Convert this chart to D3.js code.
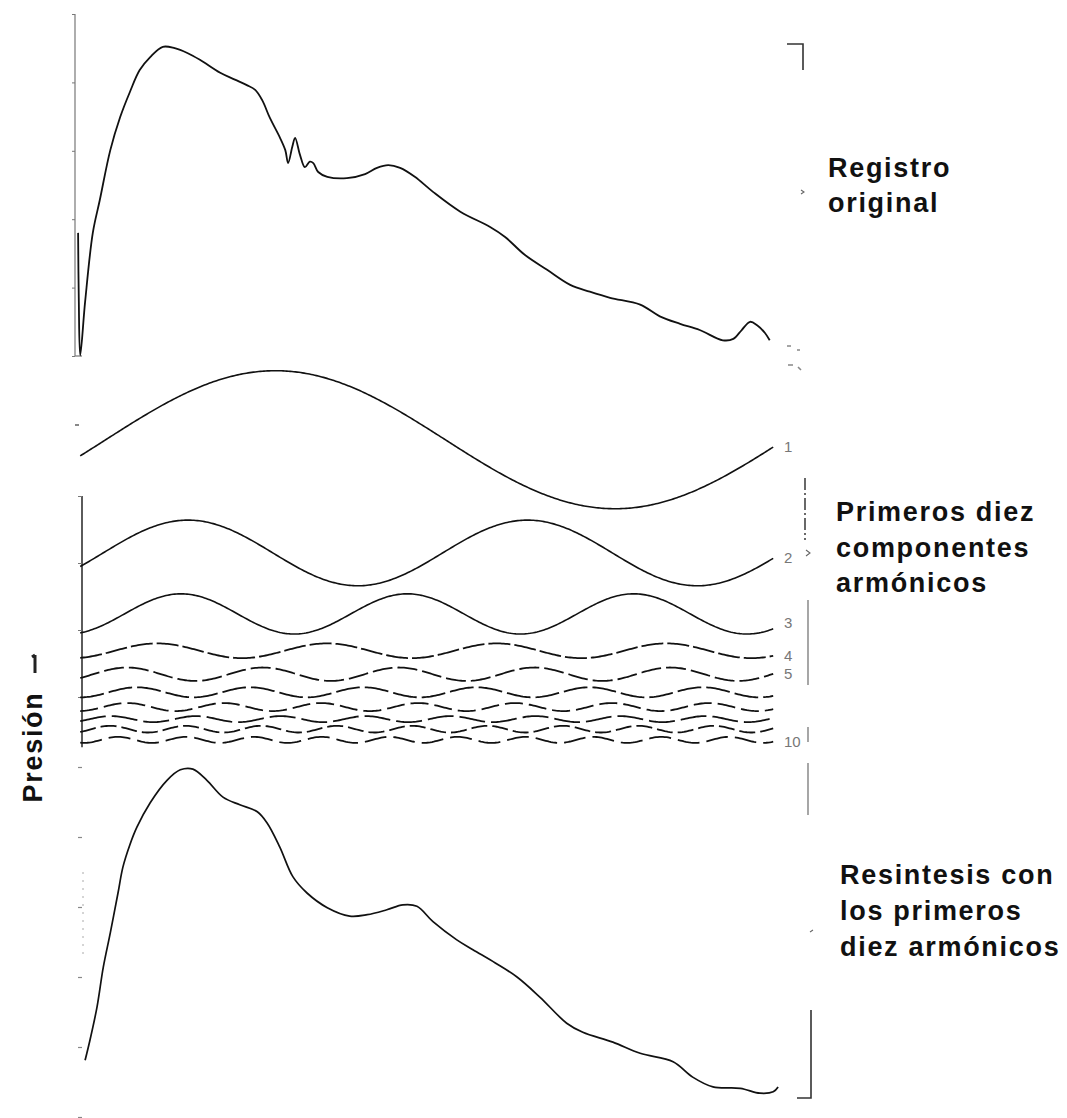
<!DOCTYPE html>
<html>
<head>
<meta charset="utf-8">
<script src="https://cdn.jsdelivr.net/npm/d3@7/dist/d3.min.js"></script>
<style>
  html, body { margin: 0; padding: 0; background: #fff; }
  svg { display: block; }
  .lbl { font-family: "Liberation Sans", Arial, sans-serif; font-weight: bold; font-size: 27px; letter-spacing: 1.7px; fill: #111; }
  .num { font-family: "Liberation Sans", Arial, sans-serif; font-size: 15px; fill: #777; }
</style>
</head>
<body>
<script>
// ---------- DATA (time in % of the cycle, pressure in axis units) ----------
const originalT = [0.3, 0.4, 0.6, 1.3, 2.4, 3.4, 4.9, 6.3, 7.7, 9.1, 10.6, 12.4, 14.1, 15.9, 17.7, 20.6, 22.7, 24.4, 25.6, 26.6, 27.7, 29.1, 29.9, 30.3, 30.9, 31.3, 32.0, 32.7, 33.4, 33.9, 34.6, 35.9, 38.7, 41.3, 43.0, 44.6, 46.3, 48.4, 51.0, 54.9, 59.1, 61.3, 64.1, 67.3, 70.6, 73.4, 76.3, 80.6, 83.4, 86.3, 89.1, 92.4, 93.9, 95.1, 96.3, 97.3, 98.4, 99.1];
const originalP = [1.80, 0.82, 0.01, 0.79, 1.80, 2.28, 3.01, 3.49, 3.86, 4.18, 4.37, 4.52, 4.50, 4.43, 4.33, 4.14, 4.04, 3.96, 3.89, 3.74, 3.48, 3.20, 3.01, 2.82, 3.06, 3.19, 2.94, 2.76, 2.84, 2.82, 2.69, 2.62, 2.60, 2.66, 2.75, 2.79, 2.75, 2.62, 2.40, 2.11, 1.89, 1.74, 1.48, 1.26, 1.04, 0.94, 0.85, 0.75, 0.58, 0.47, 0.38, 0.23, 0.25, 0.38, 0.50, 0.45, 0.34, 0.23];

const resynthT = [1.3, 2.0, 3.0, 3.9, 4.9, 6.0, 6.7, 7.7, 8.7, 10.6, 13.0, 14.9, 16.7, 18.7, 21.0, 23.4, 25.9, 27.3, 29.1, 31.0, 33.0, 35.9, 39.1, 41.6, 44.4, 46.7, 48.7, 51.0, 54.4, 56.7, 59.9, 63.0, 66.3, 70.1, 72.4, 76.7, 80.6, 85.3, 88.1, 91.0, 94.9, 97.7, 99.6, 100.3];
const resynthP = [0.81, 1.10, 1.57, 2.14, 2.63, 3.20, 3.57, 3.89, 4.14, 4.49, 4.81, 4.96, 4.97, 4.81, 4.57, 4.46, 4.36, 4.20, 3.86, 3.43, 3.20, 2.99, 2.87, 2.89, 2.96, 3.03, 3.01, 2.79, 2.53, 2.39, 2.20, 2.00, 1.71, 1.34, 1.21, 1.07, 0.91, 0.79, 0.57, 0.43, 0.41, 0.34, 0.36, 0.43];

// harmonic components (number, baseline, amplitude, time of first crest)
const harmonicNumbers = [1, 2, 3, 4, 5, 6, 7, 8, 9, 10];
const harmonicBaselines = [4.84, 3.15, 2.24, 1.69, 1.34, 1.07, 0.85, 0.67, 0.52, 0.36];
const harmonicAmplitudes = [1.03, 0.49, 0.30, 0.11, 0.10, 0.075, 0.06, 0.045, 0.05, 0.045];
const harmonicFirstCrest = [28.5, 16.0, 15.0, 11.6, 7.3, 8.7, 7.3, 5.0, 4.9, 6.0];
const fundamentalPeriod = 97;
const harmonicStart = 0.6, harmonicEnd = 99.6;

const harmonicLabels = ["1", "2", "3", "4", "5", "10"];
const harmonicLabelIdx = [0, 1, 2, 3, 4, 9];

const axisTicks = [0, 1, 2, 3, 4, 5];
const midTicks = [1, 2, 3, 4];

const titleTop = ["Registro", "original"];
const titleMid = ["Primeros diez", "componentes", "armónicos"];
const titleBot = ["Resintesis con", "los primeros", "diez armónicos"];
const yLabel = "Presión";

// ---------- SCALES ----------
const W = 1067, H = 1118;
const svg = d3.select("body").append("svg").attr("width", W).attr("height", H);

const x = d3.scaleLinear().domain([0, 100]).range([76, 776]);
const yTop = d3.scaleLinear().domain([0, 5]).range([356, 14]);
const yMid = d3.scaleLinear().domain([0, 4]).range([764, 496]);
const yBot = d3.scaleLinear().domain([0, 5]).range([1117, 767]);

const ink = "#111";
const axisCol = "#777";

// ---------- AXES ----------
const gTopAxis = svg.append("g").attr("transform", "translate(75,0)")
  .call(d3.axisLeft(yTop).tickValues(axisTicks).tickSize(3).tickFormat(""));
gTopAxis.select(".domain").attr("stroke", axisCol).attr("stroke-width", 1.2).attr("d", `M0,${yTop(5)}V${yTop(0)}`);
gTopAxis.selectAll(".tick line").attr("stroke", axisCol);
svg.append("line").attr("x1", 75).attr("x2", 82).attr("y1", yTop(0)).attr("y2", yTop(0)).attr("stroke", axisCol).attr("stroke-width", 1.2);

const gMidAxis = svg.append("g").attr("transform", "translate(82,0)")
  .call(d3.axisLeft(yMid).tickValues(midTicks).tickSize(4).tickFormat(""));
gMidAxis.select(".domain").attr("stroke", "#333").attr("stroke-width", 1.6).attr("d", `M0,${yMid(4)}V${yMid(0.25)}`);
gMidAxis.selectAll(".tick line").attr("stroke", axisCol);
svg.append("line").attr("x1", 75).attr("x2", 79).attr("y1", 425).attr("y2", 425).attr("stroke", "#888").attr("stroke-width", 2);

const gBotAxis = svg.append("g").attr("transform", "translate(82,0)")
  .call(d3.axisLeft(yBot).tickValues(axisTicks).tickSize(4).tickFormat(""));
gBotAxis.select(".domain").attr("stroke", "#aaa").attr("stroke-width", 1).attr("stroke-dasharray", "2,6").attr("d", `M1,${yBot(3.5)}V${yBot(2.3)}`);
gBotAxis.selectAll(".tick line").attr("stroke", "#888").attr("stroke-width", 1.2);

// ---------- CURVES ----------
const lineTop = d3.line().x(d => x(d[0])).y(d => yTop(d[1])).curve(d3.curveCatmullRom.alpha(0.5));
svg.append("path").datum(originalT.map((t, i) => [t, originalP[i]]))
  .attr("d", lineTop).attr("fill", "none").attr("stroke", ink).attr("stroke-width", 1.8);

const lineBot = d3.line().x(d => x(d[0])).y(d => yBot(d[1])).curve(d3.curveCatmullRom.alpha(0.5));
svg.append("path").datum(resynthT.map((t, i) => [t, resynthP[i]]))
  .attr("d", lineBot).attr("fill", "none").attr("stroke", ink).attr("stroke-width", 1.7);

const lineMid = d3.line().x(d => x(d[0])).y(d => yMid(d[1]));
const dashes = [null, null, null, "22,4", "20,5", "24,5", "18,6", "26,6", "16,5", "22,7"];
harmonicNumbers.forEach((k, i) => {
  const pts = d3.range(harmonicStart, harmonicEnd + 0.001, 0.25).map(t =>
    [t, harmonicBaselines[i] + harmonicAmplitudes[i] * Math.cos(2 * Math.PI * k * (t - harmonicFirstCrest[i]) / fundamentalPeriod)]);
  const p = svg.append("path").datum(pts).attr("d", lineMid).attr("fill", "none")
    .attr("stroke", ink).attr("stroke-width", i < 3 ? 1.6 : 1.8);
  if (dashes[i]) p.attr("stroke-dasharray", dashes[i]);
});

// harmonic numbers
harmonicLabels.forEach((s, j) => {
  const i = harmonicLabelIdx[j];
  const endVal = harmonicBaselines[i] + harmonicAmplitudes[i] * Math.cos(2 * Math.PI * harmonicNumbers[i] * (harmonicEnd - harmonicFirstCrest[i]) / fundamentalPeriod);
  svg.append("text").attr("class", "num").attr("x", 784).attr("y", yMid(endVal) + (i === 2 ? -1 : 5)).text(s);
});

// ---------- BRACKETS / MARKS ON THE RIGHT ----------
const br = svg.append("g").attr("fill", "none").attr("stroke", "#333").attr("stroke-width", 1.6);
br.append("path").attr("d", "M787,44H803V70");
br.append("path").attr("d", "M787,346h4M797,350h3M788,365h5M798,367l3,3").attr("stroke", "#888");
br.append("path").attr("d", "M805,478V540").attr("stroke-dasharray", "12,3,2,3").attr("stroke", "#444");
br.append("path").attr("d", "M808,600V685").attr("stroke", "#777").attr("stroke-width", 1.3);
br.append("path").attr("d", "M808,727V742").attr("stroke", "#777").attr("stroke-width", 1.3);
br.append("path").attr("d", "M808,763V815").attr("stroke", "#777").attr("stroke-width", 1.3);
br.append("path").attr("d", "M811,1010V1098H797");
br.append("path").attr("d", "M801,190l3,2-3,2M806,550l4,3-4,3M810,932l3,-2").attr("stroke", "#666").attr("stroke-width", 1.1);

// ---------- TEXT ----------
function block(lines, x0, y0, dy) {
  const t = svg.append("text").attr("class", "lbl");
  lines.forEach((s, i) => t.append("tspan").attr("x", x0).attr("y", y0 + i * dy).text(s));
}
block(titleTop, 828, 177, 35);
block(titleMid, 836, 521, 35.5);
block(titleBot, 840, 884, 36);

svg.append("text").attr("class", "lbl").attr("font-size", 28)
  .attr("text-anchor", "middle").attr("transform", "translate(42,747) rotate(-90)").text(yLabel);
svg.append("path").attr("d", "M35,655V673M35,655l-3,2").attr("stroke", "#222").attr("stroke-width", 3).attr("fill", "none");
</script>
</body>
</html>
